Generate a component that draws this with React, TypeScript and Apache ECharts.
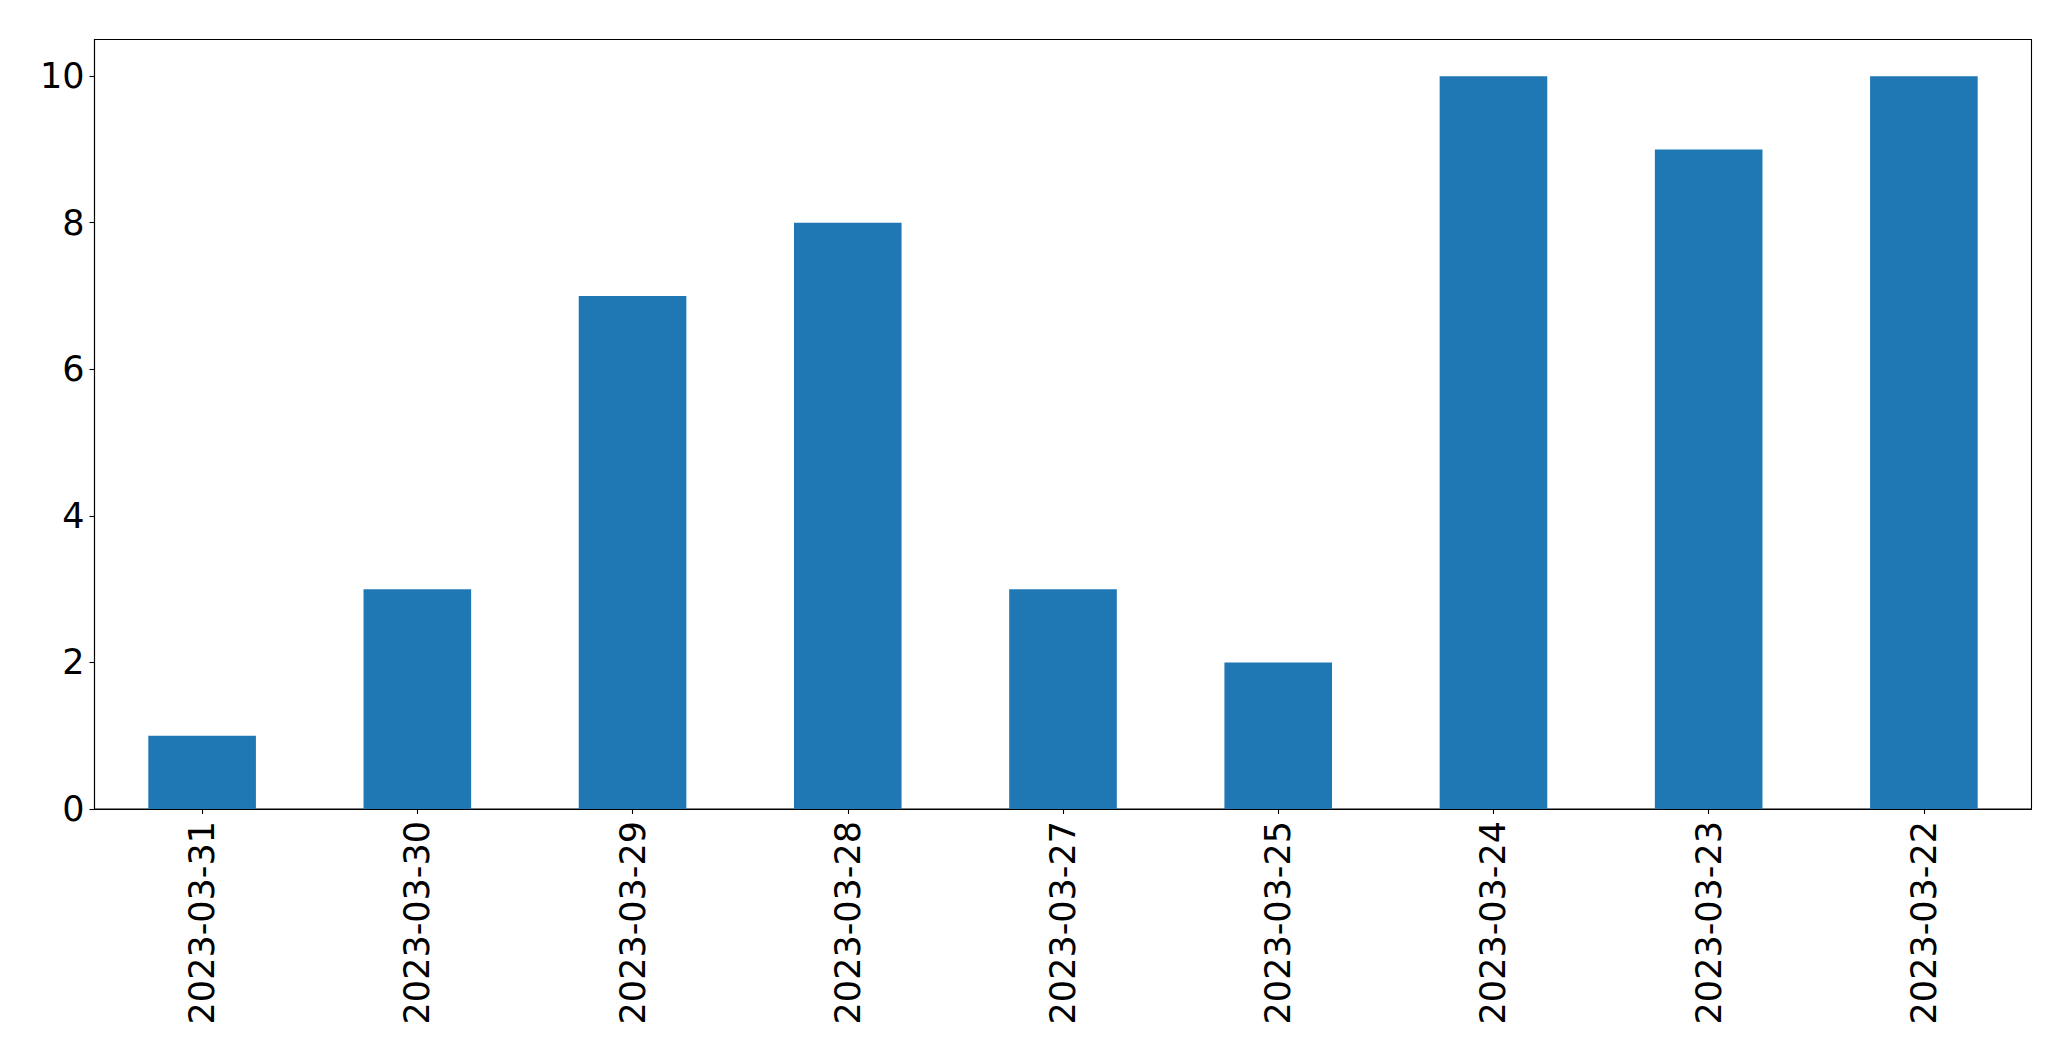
import React, { useEffect, useRef } from "react";
import * as echarts from "echarts";

const categories = [
  "2023-03-31",
  "2023-03-30",
  "2023-03-29",
  "2023-03-28",
  "2023-03-27",
  "2023-03-25",
  "2023-03-24",
  "2023-03-23",
  "2023-03-22",
];
const values = [1, 3, 7, 8, 3, 2, 10, 9, 10];
const yTicks = [0, 2, 4, 6, 8, 10];

export default function App() {
  const ref = useRef<HTMLDivElement>(null);
  useEffect(() => {
    if (!ref.current) return;
    const chart = echarts.init(ref.current, undefined, { renderer: "svg" });
    const font = "DejaVu Sans";
    chart.setOption({
      animation: false,
      backgroundColor: "#ffffff",
      grid: {
        left: 94.5,
        top: 39.5,
        right: 39.5,
        bottom: 252,
        show: true,
        borderColor: "#000000",
        borderWidth: 1.1,
        backgroundColor: "transparent",
      },
      xAxis: {
        type: "category",
        data: categories,
        boundaryGap: true,
        axisLine: { show: true, lineStyle: { color: "#000000", width: 1.1 } },
        axisTick: { show: true, alignWithLabel: true, length: 5, lineStyle: { color: "#000000", width: 1.1 } },
        axisLabel: {
          rotate: 90,
          margin: 12,
          color: "#000000",
          fontFamily: font,
          fontSize: 35,
          interval: 0,
        },
        splitLine: { show: false },
      },
      yAxis: {
        type: "value",
        min: 0,
        max: 10.5,
        interval: 2,
        axisLine: { show: true, lineStyle: { color: "#000000", width: 1.1 } },
        axisTick: { show: true, length: 5, customValues: yTicks, lineStyle: { color: "#000000", width: 1.1 } },
        axisLabel: {
          margin: 10,
          color: "#000000",
          fontFamily: font,
          fontSize: 35,
          customValues: yTicks,
        },
        splitLine: { show: false },
      },
      series: [
        {
          type: "bar",
          data: values,
          barWidth: "50%",
          itemStyle: { color: "#1f77b4" },
        },
      ],
    });
    return () => chart.dispose();
  }, []);
  return (
    <div
      ref={ref}
      style={{ position: "fixed", left: 0, top: 0, width: 2071, height: 1061 }}
    />
  );
}
